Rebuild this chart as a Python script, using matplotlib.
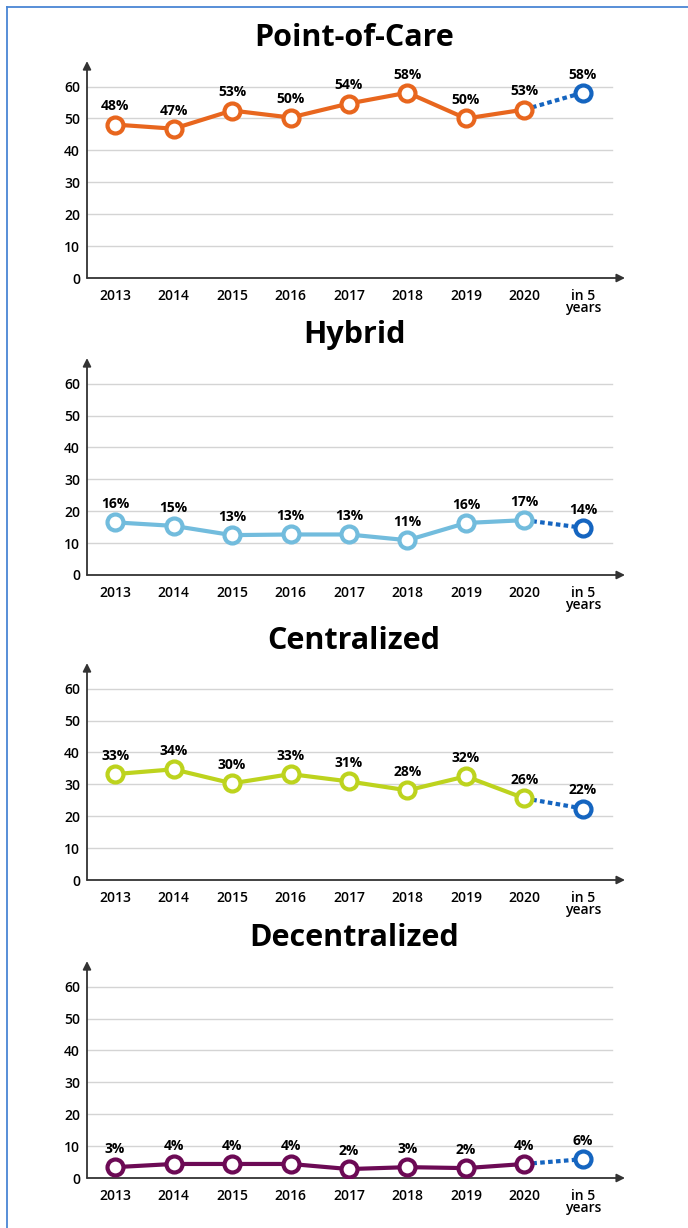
import numpy as np
import matplotlib.pyplot as plt
from matplotlib.lines import Line2D

years = ['2013', '2014', '2015', '2016', '2017', '2018', '2019', '2020', 'in 5\nyears']
titles = ['Point-of-Care', 'Hybrid', 'Centralized', 'Decentralized']

# values (plotted) and the printed labels
poc = [48.1, 46.8, 52.5, 50.3, 54.7, 58.1, 50.0, 52.8, 58.1]
poc_lbl = [48, 47, 53, 50, 54, 58, 50, 53, 58]
hybrid = [16.5, 15.4, 12.5, 12.7, 12.7, 10.9, 16.3, 17.2, 14.8]
hybrid_lbl = [16, 15, 13, 13, 13, 11, 16, 17, 14]
central = [33.2, 34.7, 30.3, 33.2, 30.9, 28.1, 32.5, 25.6, 22.4]
central_lbl = [33, 34, 30, 33, 31, 28, 32, 26, 22]
decentral = [3.4, 4.4, 4.4, 4.4, 2.8, 3.4, 3.1, 4.4, 5.9]
decentral_lbl = [3, 4, 4, 4, 2, 3, 2, 4, 6]

series = [poc, hybrid, central, decentral]
labels = [poc_lbl, hybrid_lbl, central_lbl, decentral_lbl]
colors = ['#E8661E', '#72BCDD', '#BDD31E', '#6C0A55']
forecast_col = '#1565C0'
yticks = [0, 10, 20, 30, 40, 50, 60]

W, H = 688, 1228
plt.rcParams['font.family'] = ['Open Sans', 'DejaVu Sans']
fig = plt.figure(figsize=(W / 100, H / 100), dpi=100)

# blue frame (left and top)
fig.add_artist(Line2D([7 / W, 7 / W], [0, 1 - 7 / H], transform=fig.transFigure,
                      color='#4A86D4', lw=1.3))
fig.add_artist(Line2D([7 / W, 1], [1 - 7 / H, 1 - 7 / H], transform=fig.transFigure,
                      color='#4A86D4', lw=1.3))

bottoms = [278, 575, 880, 1178]
title_y = [38, 335, 641, 938]
left, right = 87, 625
x0, x1 = -0.48, 8.72
ymax = 68
ppu = 3.19

for i in range(4):
    b = bottoms[i]
    h = ymax * ppu
    ax = fig.add_axes([left / W, 1 - b / H, (right - left) / W, h / H])
    ax.set_xlim(x0, x1)
    ax.set_ylim(0, ymax)
    for s in ax.spines.values():
        s.set_visible(False)
    ax.set_facecolor('none')
    x = np.arange(len(years))
    for yt in yticks[1:]:
        ax.plot([x0, 8.5], [yt, yt], color='#d4d4d4', lw=1, zorder=0)
    # axes with arrows
    ax.annotate('', xy=(1, 0), xytext=(0, 0), xycoords='axes fraction',
                arrowprops=dict(arrowstyle='-|>', color='#333333', lw=1.3,
                                mutation_scale=12, shrinkA=0, shrinkB=0))
    ax.annotate('', xy=(0, 1), xytext=(0, 0), xycoords='axes fraction',
                arrowprops=dict(arrowstyle='-|>', color='#333333', lw=1.3,
                                mutation_scale=12, shrinkA=0, shrinkB=0))
    v = series[i]
    ax.plot(x[:8], v[:8], color=colors[i], lw=3, zorder=3,
            marker='o', ms=11.5, mfc='white', mec=colors[i], mew=3)
    ax.plot(x[7:], v[7:], color=forecast_col, lw=3, ls=(0, (1.1, 0.8)), zorder=2)
    ax.plot(x[8], v[8], marker='o', ms=11.5, mfc='white', mec=forecast_col,
            mew=3, zorder=4)
    for xi, vi, li in zip(x, v, labels[i]):
        ax.annotate(f'{li}%', (xi, vi), xytext=(0, 8), textcoords='offset points',
                    ha='center', va='bottom', fontsize=10, fontweight='bold')
    ax.set_xticks(x)
    ax.set_xticklabels(years, fontsize=10, fontweight='semibold', linespacing=0.8,
                       va='top')
    ax.set_yticks(yticks)
    ax.set_yticklabels([str(t) for t in yticks], fontsize=10, fontweight='semibold')
    ax.tick_params(length=0, pad=5)
    ax.tick_params(axis='x', pad=8)
    fig.text(0.5 + 10 / W, 1 - title_y[i] / H, titles[i], ha='center', va='center',
             fontsize=22, fontweight='bold')

fig.savefig('out.png', dpi=100)
